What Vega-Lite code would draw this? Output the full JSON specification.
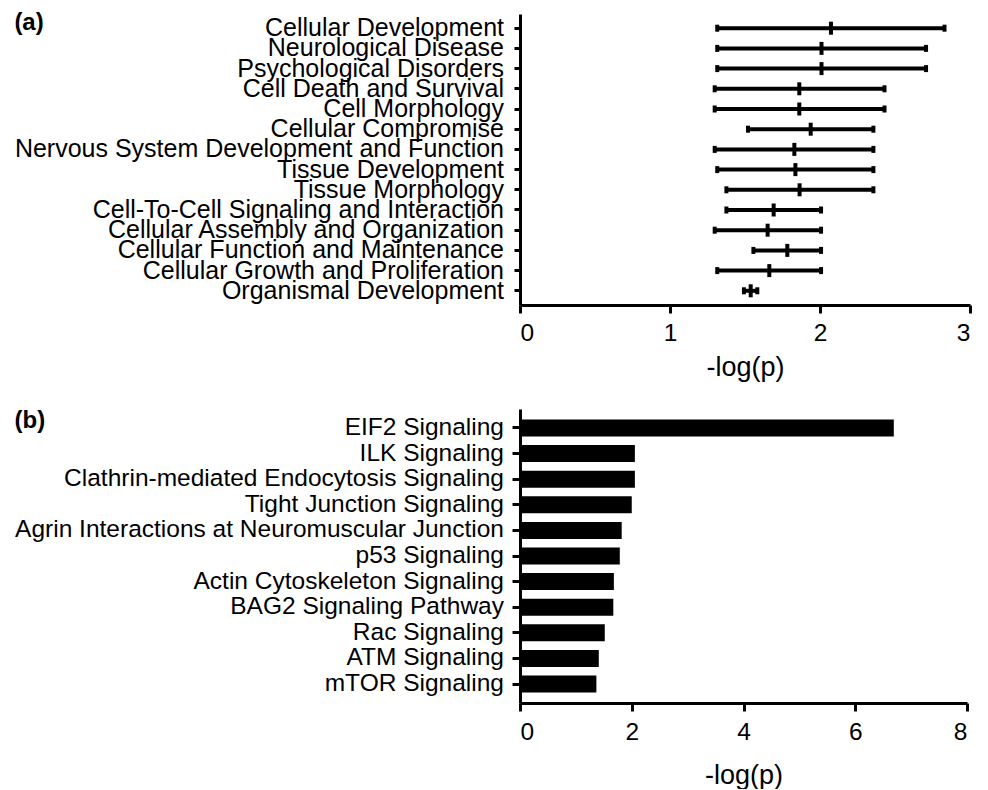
{
  "$schema": "https://vega.github.io/schema/vega-lite/v6.json",
  "padding": {"left": 14, "top": 11, "right": 5, "bottom": 0},
  "background": "white",
  "config": {
    "view": {"stroke": null},
    "font": "Liberation Sans",
    "axis": {
      "domainColor": "black",
      "domainWidth": 3,
      "tickColor": "black",
      "tickWidth": 3,
      "labelColor": "black",
      "labelFont": "Liberation Sans",
      "labelFontSize": 24.5,
      "labelLimit": 0,
      "titleFont": "Liberation Sans",
      "titleFontSize": 27,
      "titleFontWeight": "normal",
      "titleColor": "black",
      "grid": false
    },
    "title": {"font": "Liberation Sans", "fontSize": 24, "fontWeight": "bold", "color": "black"}
  },
  "concat": [
    {
      "title": {"text": "(a)", "anchor": "start", "frame": "bounds", "baseline": "top", "offset": 0, "dy": 21},
      "width": 450,
      "height": 291,
      "data": {"values": [
        {"category": "Cellular Development", "low": 1.315, "mean": 2.073, "high": 2.83},
        {"category": "Neurological Disease", "low": 1.315, "mean": 2.01, "high": 2.707},
        {"category": "Psychological Disorders", "low": 1.315, "mean": 2.01, "high": 2.707},
        {"category": "Cell Death and Survival", "low": 1.298, "mean": 1.862, "high": 2.43},
        {"category": "Cell Morphology", "low": 1.298, "mean": 1.862, "high": 2.43},
        {"category": "Cellular Compromise", "low": 1.52, "mean": 1.938, "high": 2.356},
        {"category": "Nervous System Development and Function", "low": 1.298, "mean": 1.829, "high": 2.356},
        {"category": "Tissue Development", "low": 1.315, "mean": 1.836, "high": 2.356},
        {"category": "Tissue Morphology", "low": 1.376, "mean": 1.864, "high": 2.356},
        {"category": "Cell-To-Cell Signaling and Interaction", "low": 1.376, "mean": 1.691, "high": 2.007},
        {"category": "Cellular Assembly and Organization", "low": 1.298, "mean": 1.651, "high": 2.007},
        {"category": "Cellular Function and Maintenance", "low": 1.556, "mean": 1.782, "high": 2.007},
        {"category": "Cellular Growth and Proliferation", "low": 1.315, "mean": 1.662, "high": 2.007},
        {"category": "Organismal Development", "low": 1.493, "mean": 1.538, "high": 1.582}
      ]},
      "encoding": {
        "y": {
          "field": "category", "type": "nominal", "sort": null,
          "scale": {"paddingInner": 0.5, "paddingOuter": 0.453},
          "axis": {"title": null, "tickSize": 6, "labelPadding": 10.5, "labelFontSize": 25}
        }
      },
      "layer": [
        {
          "mark": {"type": "rule", "color": "black", "strokeWidth": 4},
          "encoding": {
            "x": {"field": "low", "type": "quantitative",
                  "scale": {"domain": [0, 3], "nice": false},
                  "axis": {"values": [0, 1, 2, 3], "format": "d", "title": "-log(p)", "tickSize": 8, "labelPadding": 8, "titlePadding": 10}},
            "x2": {"field": "high"}
          }
        },
        {
          "mark": {"type": "tick", "color": "black", "size": 7, "thickness": 4, "opacity": 1},
          "encoding": {"x": {"field": "low", "type": "quantitative"}}
        },
        {
          "mark": {"type": "tick", "color": "black", "size": 7, "thickness": 4, "opacity": 1},
          "encoding": {"x": {"field": "high", "type": "quantitative"}}
        },
        {
          "mark": {"type": "tick", "color": "black", "size": 13, "thickness": 4, "opacity": 1},
          "encoding": {"x": {"field": "mean", "type": "quantitative"}}
        }
      ]
    },
    {
      "title": {"text": "(b)", "anchor": "start", "frame": "bounds", "baseline": "top", "offset": 0, "dy": 24},
      "width": 447,
      "height": 294,
      "data": {"values": [
        {"pathway": "EIF2 Signaling", "value": 6.69},
        {"pathway": "ILK Signaling", "value": 2.056},
        {"pathway": "Clathrin-mediated Endocytosis Signaling", "value": 2.056},
        {"pathway": "Tight Junction Signaling", "value": 2.0},
        {"pathway": "Agrin Interactions at Neuromuscular Junction", "value": 1.82},
        {"pathway": "p53 Signaling", "value": 1.786},
        {"pathway": "Actin Cytoskeleton Signaling", "value": 1.68},
        {"pathway": "BAG2 Signaling Pathway", "value": 1.67},
        {"pathway": "Rac Signaling", "value": 1.517},
        {"pathway": "ATM Signaling", "value": 1.41},
        {"pathway": "mTOR Signaling", "value": 1.367}
      ]},
      "mark": {"type": "bar", "color": "black"},
      "encoding": {
        "y": {
          "field": "pathway", "type": "nominal", "sort": null,
          "scale": {"paddingInner": 0.336, "paddingOuter": 0.41},
          "axis": {"title": null, "tickSize": 8, "labelPadding": 8.5}
        },
        "x": {
          "field": "value", "type": "quantitative",
          "scale": {"domain": [0, 8], "nice": false},
          "axis": {"values": [0, 2, 4, 6, 8], "format": "d", "title": "-log(p)", "tickSize": 8, "labelPadding": 9.4, "titlePadding": 19}
        }
      }
    }
  ],
  "columns": 1,
  "align": "none",
  "spacing": 28
}
